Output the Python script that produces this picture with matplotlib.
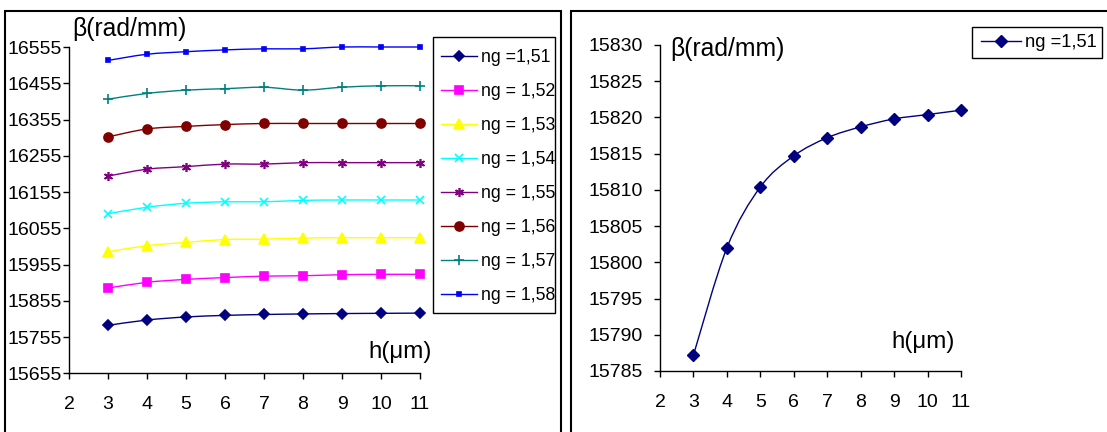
import numpy as np
import matplotlib
matplotlib.use("Agg")
import matplotlib.pyplot as plt
from matplotlib.path import Path
from matplotlib.patches import PathPatch, Rectangle
from matplotlib.lines import Line2D

plt.rcParams['font.family'] = ['Liberation Sans', 'DejaVu Sans']

# ---------------- data ----------------
h = [3, 4, 5, 6, 7, 8, 9, 10, 11]
labels = ["ng =1,51", "ng = 1,52", "ng = 1,53", "ng = 1,54", "ng = 1,55",
          "ng = 1,56", "ng = 1,57", "ng = 1,58"]
beta_151 = [15787.2, 15802.0, 15810.4, 15814.7, 15817.2, 15818.7, 15819.8, 15820.4, 15821.0]
beta_152 = [15890, 15906, 15914, 15919, 15923, 15924, 15927, 15928, 15928]
beta_153 = [15990, 16007, 16016, 16024, 16025, 16028, 16029, 16029, 16029]
beta_154 = [16095, 16113, 16124, 16128, 16128, 16132, 16133, 16133, 16133]
beta_155 = [16199, 16218, 16225, 16232, 16232, 16236, 16236, 16236, 16236]
beta_156 = [16307, 16329, 16336, 16341, 16344, 16344, 16344, 16344, 16344]
beta_157 = [16411, 16427, 16436, 16440, 16444, 16436, 16444, 16448, 16448]
beta_158 = [16518, 16535, 16542, 16547, 16550, 16550, 16555, 16555, 16555]
series = [beta_151, beta_152, beta_153, beta_154, beta_155, beta_156, beta_157, beta_158]

x_ticks = [2, 3, 4, 5, 6, 7, 8, 9, 10, 11]
left_yticks = [15655, 15755, 15855, 15955, 16055, 16155, 16255, 16355, 16455, 16555]
right_yticks = [15785, 15790, 15795, 15800, 15805, 15810, 15815, 15820, 15825, 15830]

colors = ["#000080", "#FF00FF", "#FFFF00", "#00FFFF", "#800080", "#800000", "#008080", "#0000FF"]
markers = ["D", "s", "^", "x", (6, 2, 0), "o", "+", "s"]
msizes = [5.5, 5.5, 6.5, 5.5, 6.5, 6.5, 6.5, 3.5]

W, H = 1107, 432
fig = plt.figure(figsize=(W / 100, H / 100), dpi=100)


def fx(px):
    return px / W


def fy(py):
    return 1 - py / H


def smooth_path(xs, ys):
    xs = np.asarray(xs, float)
    ys = np.asarray(ys, float)
    n = len(xs)
    verts = [(xs[0], ys[0])]
    codes = [Path.MOVETO]
    for i in range(n - 1):
        i0 = max(i - 1, 0)
        i3 = min(i + 2, n - 1)
        c1 = (xs[i] + (xs[i + 1] - xs[i0]) / 6, ys[i] + (ys[i + 1] - ys[i0]) / 6)
        c2 = (xs[i + 1] - (xs[i3] - xs[i]) / 6, ys[i + 1] - (ys[i3] - ys[i]) / 6)
        verts += [c1, c2, (xs[i + 1], ys[i + 1])]
        codes += [Path.CURVE4] * 3
    return Path(verts, codes)


def style_axes(ax, ylim, yticks, ypad):
    ax.set_xlim(2, 11)
    ax.set_ylim(*ylim)
    ax.set_xticks(x_ticks)
    ax.set_yticks(yticks)
    ax.set_xticklabels([str(t) for t in x_ticks])
    ax.set_yticklabels([str(t) for t in yticks])
    for s in ["top", "right"]:
        ax.spines[s].set_visible(False)
    for s in ["left", "bottom"]:
        ax.spines[s].set_linewidth(1.0)
        ax.spines[s].set_color("black")
    ax.tick_params(axis="both", direction="out", length=4.5, width=1.0, colors="black",
                   labelsize=14)
    ax.tick_params(axis="x", pad=12)
    ax.tick_params(axis="y", pad=ypad)
    ax.patch.set_alpha(0)
    for lab in ax.get_xticklabels() + ax.get_yticklabels():
        lab.set_clip_on(False)


def frame(x0, y0, x1, y1, lw):
    fig.add_artist(Rectangle((fx(x0), fy(y1)), fx(x1) - fx(x0), fy(y0) - fy(y1),
                             transform=fig.transFigure, fill=False, edgecolor="black",
                             linewidth=lw))


# outer frames
frame(4.5, 11, 561, 480, 1.5)
frame(571, 10.5, 1200, 480, 1.5)

# ---------------- left chart ----------------
axL = fig.add_axes([fx(69), fy(373.3), fx(420) - fx(69), fy(47) - fy(373.3)])
style_axes(axL, (15655, 16555), left_yticks, 0.5)
handles = []
for ys, c, m, ms, lab in zip(series, colors, markers, msizes, labels):
    axL.add_patch(PathPatch(smooth_path(h, ys), facecolor="none", edgecolor=c, linewidth=1.0,
                            clip_on=False))
    axL.plot(h, ys, linestyle="none", marker=m, color=c, markersize=ms, markeredgewidth=1.2,
             clip_on=False)
    handles.append(Line2D([], [], color=c, marker=m, markersize=ms, linewidth=1.0,
                          markeredgewidth=1.2, label=lab))
frame(433, 37.3, 555, 312.7, 1.0)
fig.legend(handles=handles, loc="upper left", bbox_to_anchor=(fx(440.7), fy(49.2)),
           bbox_transform=fig.transFigure, borderaxespad=0, fontsize=12.7,
           frameon=False, borderpad=0, labelspacing=0.96, handlelength=2.06,
           handletextpad=0.23)
fig.text(fx(72.7), fy(29), "β(rad/mm)", fontsize=17.8, va="center", ha="left")
fig.text(fx(368), fy(352), "h(μm)", fontsize=17.4, va="center", ha="left")

# ---------------- right chart ----------------
axR = fig.add_axes([fx(660), fy(371), fx(961) - fx(660), fy(45) - fy(371)])
style_axes(axR, (15785, 15830), right_yticks, 8)
axR.add_patch(PathPatch(smooth_path(h, beta_151), facecolor="none", edgecolor=colors[0],
                        linewidth=1.0, clip_on=False))
axR.plot(h, beta_151, linestyle="none", marker="D", color=colors[0], markersize=6,
         clip_on=False)
hR = [Line2D([], [], color=colors[0], marker="D", markersize=6, linewidth=1.0, label=labels[0])]
frame(972.3, 27.3, 1101.7, 58.3, 1.0)
fig.legend(handles=hR, loc="upper left", bbox_to_anchor=(fx(980.7), fy(34.3)),
           bbox_transform=fig.transFigure, borderaxespad=0, fontsize=13.2,
           frameon=False, borderpad=0, handlelength=2.19, handletextpad=0.22)
fig.text(fx(670), fy(49), "β(rad/mm)", fontsize=17.8, va="center", ha="left")
fig.text(fx(891.7), fy(342), "h(μm)", fontsize=17.4, va="center", ha="left")

fig.savefig("out.png", dpi=100)
